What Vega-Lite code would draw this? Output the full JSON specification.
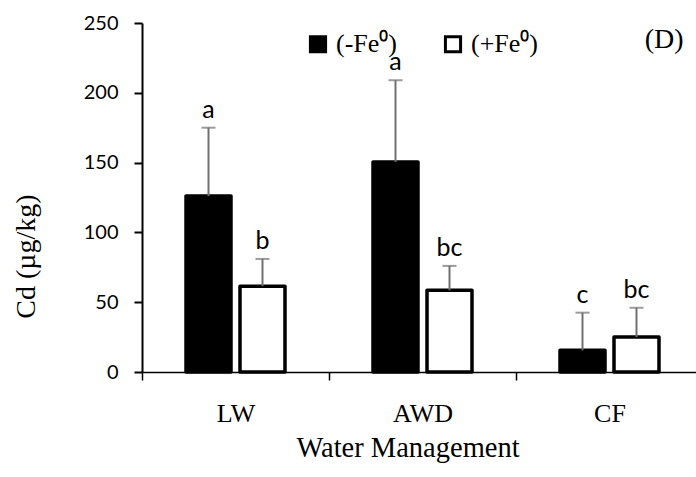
{
  "$schema": "https://vega.github.io/schema/vega-lite/v6.json",
  "autosize": {"type": "none"},
  "width": 554,
  "height": 349,
  "padding": {"left": 142, "top": 23, "right": 0, "bottom": 105},
  "background": "white",
  "config": {"view": {"stroke": null}},
  "data": {"values": [
    {"wm": "LW", "fe": "(-Fe⁰)", "cd": 126, "upper": 175, "letter": "a"},
    {"wm": "LW", "fe": "(+Fe⁰)", "cd": 61.5, "upper": 81, "letter": "b"},
    {"wm": "AWD", "fe": "(-Fe⁰)", "cd": 150.5, "upper": 209, "letter": "a"},
    {"wm": "AWD", "fe": "(+Fe⁰)", "cd": 58.5, "upper": 76, "letter": "bc"},
    {"wm": "CF", "fe": "(-Fe⁰)", "cd": 15.5, "upper": 42.5, "letter": "c"},
    {"wm": "CF", "fe": "(+Fe⁰)", "cd": 25, "upper": 46, "letter": "bc"}
  ]},
  "encoding": {
    "x": {"field": "wm", "type": "nominal", "sort": ["LW", "AWD", "CF"],
      "scale": {"range": [0, 561], "paddingInner": 0, "paddingOuter": 0},
      "axis": {"title": "Water Management", "labelAngle": 0, "labelFont": "Liberation Serif", "labelFontSize": 26, "labelColor": "black", "labelPadding": 41, "labelBaseline": "alphabetic", "tickBand": "extent", "tickSize": 8, "tickColor": "black", "tickWidth": 1.5, "domainColor": "black", "domainWidth": 1.5, "titleFont": "Liberation Serif", "titleFontSize": 28.5, "titleFontWeight": "normal", "titleColor": "black", "titleX": 265.5, "titleY": 84, "titleBaseline": "alphabetic", "titleAlign": "center"}}
  },
  "layer": [
    {"mark": {"type": "bar", "stroke": "black", "strokeWidth": 3.5, "strokeJoin": "round"},
      "encoding": {
        "xOffset": {"field": "fe", "type": "nominal", "sort": ["(-Fe⁰)", "(+Fe⁰)"], "scale": {"paddingInner": 0.1667, "paddingOuter": 0.815}},
        "y": {"field": "cd", "type": "quantitative", "title": "Cd (µg/kg)", "scale": {"domain": [0, 250], "nice": false},
          "axis": {"values": [0, 50, 100, 150, 200, 250], "grid": false, "labelFont": "Lato", "labelFontSize": 20, "labelColor": "black", "labelPadding": 16, "tickSize": 8, "tickColor": "black", "tickWidth": 2, "domainColor": "black", "domainWidth": 2, "titleFont": "Liberation Serif", "titleFontSize": 28, "titleFontWeight": "normal", "titleColor": "black", "titleX": -108, "titleY": 233, "titleBaseline": "alphabetic", "titleAlign": "center", "titleAngle": -90}},
        "fill": {"field": "fe", "type": "nominal", "sort": ["(-Fe⁰)", "(+Fe⁰)"], "scale": {"range": ["black", "white"]},
          "legend": {"orient": "none", "legendX": 163, "legendY": 8, "direction": "horizontal", "title": null, "symbolType": "square", "symbolSize": 230, "symbolStrokeColor": "black", "symbolStrokeWidth": 3, "labelFont": "Liberation Serif", "labelFontSize": 26, "labelColor": "black", "labelOffset": 5, "columnPadding": 42}}
      }},
    {"mark": {"type": "rule", "color": "#707070", "strokeWidth": 2},
      "encoding": {
        "xOffset": {"field": "fe", "type": "nominal", "sort": ["(-Fe⁰)", "(+Fe⁰)"]},
        "y": {"field": "cd", "type": "quantitative", "title": "Cd (µg/kg)"}, "y2": {"field": "upper"}}},
    {"mark": {"type": "tick", "color": "#707070", "thickness": 2, "size": 14},
      "encoding": {
        "xOffset": {"field": "fe", "type": "nominal", "sort": ["(-Fe⁰)", "(+Fe⁰)"]},
        "y": {"field": "upper", "type": "quantitative", "title": "Cd (µg/kg)"}}},
    {"mark": {"type": "text", "font": "Lato", "fontSize": 25, "baseline": "alphabetic", "dy": -10, "color": "black"},
      "encoding": {
        "xOffset": {"field": "fe", "type": "nominal", "sort": ["(-Fe⁰)", "(+Fe⁰)"]},
        "y": {"field": "upper", "type": "quantitative", "title": "Cd (µg/kg)"}, "text": {"field": "letter"}}},
    {"data": {"values": [{"panel": "(D)"}]},
      "mark": {"type": "text", "font": "Liberation Serif", "fontSize": 28, "align": "right", "baseline": "alphabetic", "dx": 74, "color": "black"},
      "encoding": {"x": {"datum": "CF"}, "y": {"datum": 232}, "text": {"field": "panel"}}}
  ]
}
